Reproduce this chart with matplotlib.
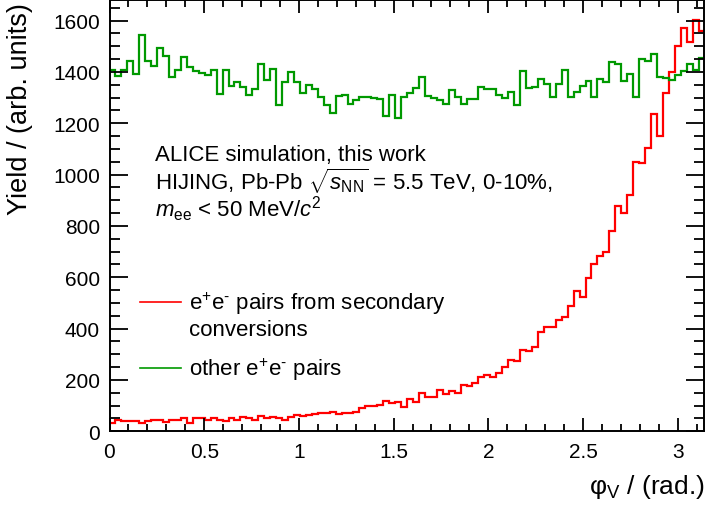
import numpy as np
import matplotlib
matplotlib.use("Agg")
import matplotlib.pyplot as plt
from matplotlib.ticker import MultipleLocator

plt.rcParams['font.family'] = ['Liberation Sans', 'DejaVu Sans']
plt.rcParams['mathtext.fontset'] = 'custom'
plt.rcParams['mathtext.rm'] = 'Liberation Sans'
plt.rcParams['mathtext.it'] = 'Liberation Sans:italic'
plt.rcParams['mathtext.bf'] = 'Liberation Sans:bold'

# 100 bins of phi_V between 0 and pi
n_bins = 100
edges = np.linspace(0, np.pi, n_bins + 1)

# e+e- pairs from secondary conversions
conv = [31, 44, 39, 42, 42, 31, 39, 44, 45, 38,
        45, 44, 50, 32, 50, 52, 45, 52, 44, 42,
        50, 45, 55, 52, 45, 59, 52, 55, 52, 44,
        55, 65, 61, 65, 67, 70, 72, 76, 66, 72,
        72, 76, 90, 99, 99, 103, 117, 110, 113, 94,
        126, 115, 148, 135, 135, 160, 145, 156, 150, 179,
        178, 188, 213, 221, 211, 229, 250, 276, 272, 317,
        311, 330, 386, 405, 408, 434, 447, 490, 547, 523,
        597, 652, 683, 698, 782, 877, 850, 919, 1049, 1045,
        1105, 1234, 1150, 1319, 1400, 1501, 1569, 1517, 1603, 1560]

# other e+e- pairs
other = [1409, 1384, 1406, 1443, 1390, 1543, 1441, 1423, 1494, 1462,
         1380, 1409, 1459, 1420, 1402, 1397, 1387, 1409, 1314, 1406,
         1344, 1361, 1342, 1309, 1335, 1431, 1369, 1413, 1270, 1360,
         1400, 1361, 1319, 1348, 1332, 1301, 1270, 1241, 1307, 1309,
         1275, 1289, 1304, 1302, 1297, 1296, 1227, 1311, 1221, 1301,
         1318, 1338, 1380, 1307, 1299, 1291, 1275, 1331, 1301, 1275,
         1296, 1296, 1343, 1335, 1333, 1311, 1299, 1322, 1270, 1402,
         1338, 1340, 1374, 1353, 1301, 1351, 1406, 1301, 1322, 1346,
         1363, 1304, 1371, 1361, 1439, 1429, 1363, 1390, 1302, 1449,
         1441, 1468, 1382, 1375, 1367, 1387, 1405, 1431, 1406, 1455]

red = '#ff0000'
green = '#009900'

fig = plt.figure(figsize=(7.06, 5.10), dpi=100)
ax = fig.add_axes([109.5 / 706, (510 - 432.3) / 510, 595 / 706, 431.3 / 510])

ax.stairs(conv, edges, baseline=None, color=red, lw=1.6)
ax.stairs(other, edges, baseline=None, color=green, lw=1.6)

ax.set_xlim(0, np.pi)
ax.set_ylim(0, 1680)

ax.xaxis.set_major_locator(MultipleLocator(0.5))
ax.xaxis.set_minor_locator(MultipleLocator(0.1))
ax.yaxis.set_major_locator(MultipleLocator(200))
ax.yaxis.set_minor_locator(MultipleLocator(50))
ax.xaxis.set_major_formatter(lambda v, p: '%g' % v)

for s in ax.spines.values():
    s.set_linewidth(1.4)
ax.tick_params(which='both', direction='in', top=True, right=True, width=1.3,
               labelsize=15)
ax.tick_params(axis='x', which='major', length=9.5, pad=7.5)
ax.tick_params(axis='x', which='minor', length=5)
ax.tick_params(axis='y', which='major', length=13, pad=7)
ax.tick_params(axis='y', which='minor', length=7)

ax.set_ylabel('Yield / (arb. units)', fontsize=19.5, loc='top')
ax.yaxis.set_label_coords(-0.128, 0.995)
ax.set_xlabel(r'φ$_{\rm V}$ / (rad.)', fontsize=19, loc='right')
ax.xaxis.set_label_coords(1.0, -0.094)

# annotation text
tx = 0.0765
ax.text(tx, 0.6297, 'ALICE simulation, this work', transform=ax.transAxes,
        fontsize=16, va='baseline')
ax.text(tx, 0.5618, r'HIJING, Pb-Pb $\sqrt{s_{\rm NN}}$ = 5.5 TeV, 0-10%,',
        transform=ax.transAxes, fontsize=16, va='baseline')
ax.text(tx, 0.4990, r'$m_{\rm ee}$ < 50 MeV/$c^{2}$', transform=ax.transAxes,
        fontsize=16, va='baseline')

# legend, drawn by hand like the ROOT TLegend
lx0, lx1, ltx = 0.051, 0.121, 0.134
ax.plot([lx0, lx1], [0.299, 0.299], color=red, lw=1.2,
        transform=ax.transAxes)
ax.text(ltx, 0.2975, 'e$^{+}$e$^{‐}$ pairs from secondary',
        transform=ax.transAxes, fontsize=16, va='center')
ax.text(ltx, 0.2356, 'conversions', transform=ax.transAxes, fontsize=16,
        va='center')
ax.plot([lx0, lx1], [0.146, 0.146], color=green, lw=1.2,
        transform=ax.transAxes)
ax.text(ltx, 0.146, 'other e$^{+}$e$^{‐}$ pairs', transform=ax.transAxes,
        fontsize=16, va='center')

fig.savefig('out.png', dpi=100)
